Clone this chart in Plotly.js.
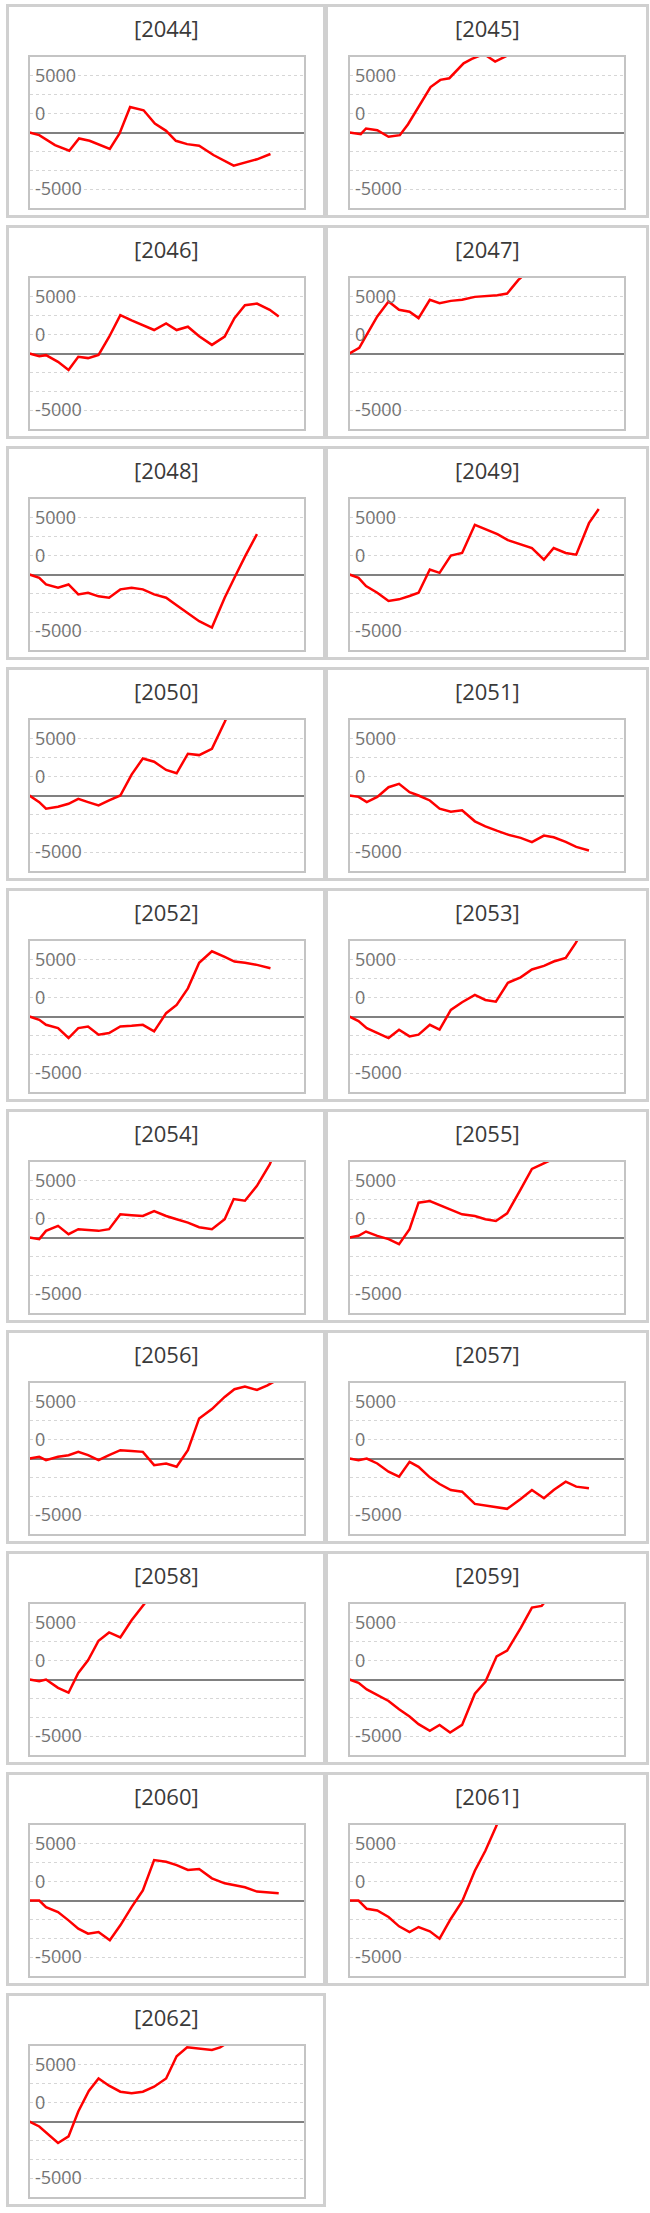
<!DOCTYPE html>
<html>
<head>
<meta charset="utf-8">
<script src="https://cdn.plot.ly/plotly-3.0.1.min.js"></script>
<style>
  body { margin: 0; background: #fff; }
</style>
</head>
<body>
<div id="plotDiv"></div>
<script>
// day of year (x) and running value (y) for every year panel
var x2044 = [0, 13, 34, 53, 66, 80, 107, 120, 134, 152, 167, 182, 195, 210, 226, 245, 272, 303, 321];
var y2044 = [0, -350, -1670, -2410, -790, -1100, -2190, -130, 3380, 2940, 1180, 220, -1100, -1540, -1750, -2980, -4390, -3550, -2850];

var x2045 = [0, 15, 22, 37, 52, 67, 78, 108, 121, 133, 152, 163, 179, 194, 210];
var y2045 = [0, -220, 530, 310, -570, -350, 1100, 6010, 6970, 7190, 9170, 9740, 10400, 9390, 10180];

var x2046 = [0, 13, 22, 38, 52, 65, 78, 92, 106, 121, 136, 151, 166, 182, 196, 211, 226, 243, 260, 273, 287, 303, 320, 332];
var y2046 = [0, -350, -220, -1100, -2190, -440, -610, -180, 2190, 5090, 4390, 3730, 3110, 3990, 3110, 3550, 2280, 1140, 2240, 4690, 6400, 6620, 5790, 4910];

var x2047 = [0, 13, 23, 37, 52, 66, 80, 92, 107, 120, 135, 150, 167, 181, 197, 210, 225, 239];
var y2047 = [0, 750, 2500, 4910, 6890, 5790, 5530, 4690, 7110, 6670, 6970, 7110, 7500, 7590, 7720, 7940, 9740, 11050];

var x2048 = [0, 13, 22, 38, 52, 65, 78, 92, 106, 121, 136, 151, 166, 182, 196, 211, 226, 243, 260, 273, 287, 303];
var y2048 = [0, -440, -1320, -1750, -1320, -2630, -2410, -2890, -3070, -1970, -1750, -1970, -2630, -3070, -4080, -5180, -6180, -7020, -3070, -440, 2370, 5350];

var x2049 = [0, 12, 22, 37, 52, 66, 80, 92, 107, 120, 135, 150, 167, 181, 197, 211, 228, 243, 259, 272, 288, 302, 319, 332];
var y2049 = [0, -440, -1540, -2410, -3510, -3290, -2850, -2410, 660, 220, 2500, 2850, 6580, 6010, 5350, 4560, 3950, 3510, 1970, 3510, 2850, 2630, 6800, 8680];

var x2050 = [0, 13, 22, 38, 52, 65, 78, 92, 106, 121, 136, 151, 166, 182, 196, 211, 226, 243, 260, 271];
var y2050 = [0, -880, -1750, -1490, -1100, -440, -880, -1320, -660, 0, 2760, 4910, 4470, 3380, 2940, 5530, 5350, 6180, 9740, 12190];

var x2051 = [0, 12, 23, 37, 52, 66, 80, 92, 107, 120, 135, 150, 167, 181, 197, 211, 228, 243, 259, 272, 288, 302, 319];
var y2051 = [0, -180, -880, -180, 1100, 1540, 440, 0, -660, -1750, -2150, -1970, -3420, -4080, -4690, -5180, -5610, -6180, -5310, -5530, -6140, -6800, -7280];

var x2052 = [0, 13, 22, 38, 52, 65, 78, 92, 106, 121, 136, 151, 166, 182, 196, 211, 226, 243, 260, 273, 287, 303, 321];
var y2052 = [0, -440, -1100, -1540, -2850, -1540, -1320, -2410, -2190, -1320, -1230, -1100, -1970, 440, 1540, 3730, 7110, 8640, 7890, 7280, 7110, 6840, 6400];

var x2053 = [0, 12, 23, 37, 52, 66, 80, 92, 107, 120, 135, 150, 167, 181, 195, 211, 228, 243, 259, 272, 288, 301, 308];
var y2053 = [0, -610, -1540, -2190, -2850, -1750, -2630, -2410, -1100, -1750, 880, 1890, 2850, 2190, 1970, 4470, 5180, 6230, 6710, 7280, 7760, 9690, 10880];

var x2054 = [0, 13, 22, 38, 52, 65, 78, 92, 106, 121, 136, 151, 166, 182, 196, 211, 226, 243, 260, 272, 287, 303, 320, 326];
var y2054 = [0, -220, 880, 1540, 440, 1100, 1000, 880, 1100, 3070, 2960, 2850, 3510, 2850, 2410, 1970, 1360, 1100, 2410, 5090, 4870, 6840, 9690, 11100];

var x2055 = [0, 12, 22, 37, 52, 66, 80, 92, 107, 120, 135, 150, 167, 181, 195, 210, 228, 243, 256, 267];
var y2055 = [0, 220, 790, 220, -220, -880, 1100, 4610, 4820, 4300, 3640, 3070, 2850, 2410, 2190, 3200, 6360, 9080, 9690, 10200];

var x2056 = [0, 13, 22, 38, 52, 65, 78, 92, 106, 121, 136, 151, 166, 182, 196, 211, 226, 243, 260, 273, 287, 303, 317, 326];
var y2056 = [0, 220, -220, 220, 440, 880, 440, -220, 440, 1100, 1000, 880, -880, -660, -1100, 1100, 5310, 6540, 8160, 9170, 9520, 9080, 9690, 10200];

var x2057 = [0, 12, 23, 37, 52, 66, 80, 92, 107, 120, 135, 150, 167, 181, 195, 210, 228, 243, 259, 272, 288, 302, 319];
var y2057 = [0, -220, 0, -660, -1750, -2410, -440, -1100, -2500, -3380, -4170, -4390, -6010, -6230, -6450, -6670, -5350, -4170, -5260, -4170, -3070, -3730, -3950];

var x2058 = [0, 13, 22, 38, 52, 65, 78, 92, 106, 121, 136, 150, 157];
var y2058 = [0, -220, 0, -1100, -1750, 880, 2540, 5130, 6230, 5570, 7850, 9650, 10530];

var x2059 = [0, 12, 23, 37, 52, 66, 80, 92, 107, 120, 134, 150, 167, 181, 196, 210, 228, 243, 256, 269];
var y2059 = [0, -440, -1320, -2100, -2850, -3950, -4910, -5920, -6800, -6010, -7020, -6010, -1890, -310, 3070, 3820, 6800, 9520, 9740, 11400];

var x2060 = [0, 13, 22, 38, 52, 65, 78, 92, 107, 121, 136, 151, 166, 182, 196, 211, 226, 243, 260, 273, 287, 303, 320, 332];
var y2060 = [0, 0, -880, -1540, -2630, -3730, -4390, -4170, -5260, -3290, -880, 1320, 5350, 5130, 4690, 4040, 4170, 2940, 2280, 2060, 1750, 1180, 1050, 960];

var x2061 = [0, 12, 23, 37, 52, 66, 80, 92, 107, 120, 135, 150, 167, 181, 195, 200];
var y2061 = [0, 0, -1100, -1320, -2190, -3420, -4170, -3510, -4080, -5050, -2410, -130, 3950, 6580, 9740, 10960];

var x2062 = [0, 13, 38, 52, 65, 79, 92, 106, 121, 136, 151, 166, 182, 196, 210, 226, 243, 254, 265];
var y2062 = [0, -660, -2850, -1970, 1320, 4040, 5700, 4740, 3950, 3730, 3950, 4610, 5700, 8640, 9820, 9700, 9480, 9820, 10530];

var years = ['2044', '2045', '2046', '2047', '2048', '2049', '2050', '2051', '2052', '2053',
             '2054', '2055', '2056', '2057', '2058', '2059', '2060', '2061', '2062'];
var xs = [x2044, x2045, x2046, x2047, x2048, x2049, x2050, x2051, x2052, x2053,
          x2054, x2055, x2056, x2057, x2058, x2059, x2060, x2061, x2062];
var ys = [y2044, y2045, y2046, y2047, y2048, y2049, y2050, y2051, y2052, y2053,
          y2054, y2055, y2056, y2057, y2058, y2059, y2060, y2061, y2062];

// tick labels sit one grid step off, as in the original sheet
var tickVals = [-7500, -5000, -2500, 0, 2500, 5000, 7500];
var tickText = ['-5000', '', '', '', '0', '', '5000'];

var W = 650, H = 2213;
var FONT = 'Open Sans, sans-serif';

var data = [];
var layout = {
  width: W,
  height: H,
  margin: { t: 0, b: 0, l: 0, r: 0 },
  paper_bgcolor: '#ffffff',
  plot_bgcolor: '#ffffff',
  showlegend: false,
  font: { family: FONT },
  shapes: [],
  annotations: []
};

for (var i = 0; i < years.length; i++) {
  var col = i % 2;
  var row = Math.floor(i / 2);
  var n = i === 0 ? '' : String(i + 1);

  // panel box and plot area, in pixels
  var boxT = 5.5 + 221 * row;
  var boxL = col === 0 ? 7.5 : 326.5;
  var boxR = col === 0 ? 324.5 : 647.5;
  var plotL = col === 0 ? 29.5 : 349.5;
  var plotR = plotL + 274;
  var plotT = boxT + 51.5;
  var plotB = boxT + 202.5;

  data.push({
    type: 'scatter',
    mode: 'lines',
    x: xs[i],
    y: ys[i],
    xaxis: 'x' + n,
    yaxis: 'y' + n,
    line: { color: '#ff0000', width: 2.5 },
    hoverinfo: 'skip'
  });

  layout['xaxis' + n] = {
    domain: [plotL / W, plotR / W],
    anchor: 'y' + n,
    range: [0, 365],
    showgrid: false,
    zeroline: false,
    showticklabels: false,
    ticks: '',
    showline: true,
    mirror: true,
    linecolor: '#c4c4c4',
    linewidth: 2,
    fixedrange: true
  };

  layout['yaxis' + n] = {
    domain: [1 - plotB / H, 1 - plotT / H],
    anchor: 'x' + n,
    range: [-10000, 10000],
    tickmode: 'array',
    tickvals: tickVals,
    ticktext: tickText,
    ticklabelposition: 'inside',
    ticklabelstandoff: 6,
    ticks: '',
    tickfont: { family: FONT, size: 18, color: '#737373' },
    showgrid: true,
    gridcolor: '#d6d6d6',
    griddash: 'dot',
    gridwidth: 1,
    zeroline: true,
    zerolinecolor: '#808080',
    zerolinewidth: 2,
    showline: true,
    mirror: true,
    linecolor: '#c4c4c4',
    linewidth: 2,
    fixedrange: true
  };

  layout.shapes.push({
    type: 'rect',
    xref: 'paper', yref: 'paper',
    x0: boxL / W, x1: boxR / W,
    y0: 1 - (boxT + 211) / H, y1: 1 - boxT / H,
    line: { color: '#d0d0d0', width: 3 },
    layer: 'below'
  });

  layout.annotations.push({
    xref: 'paper', yref: 'paper',
    x: (boxL + boxR) / 2 / W,
    y: 1 - (boxT + 22.5) / H,
    xanchor: 'center', yanchor: 'middle',
    text: '[' + years[i] + ']',
    showarrow: false,
    font: { family: FONT, size: 22, color: '#3a3a3a' }
  });
}

Plotly.newPlot('plotDiv', data, layout, { staticPlot: true });
</script>
</body>
</html>
